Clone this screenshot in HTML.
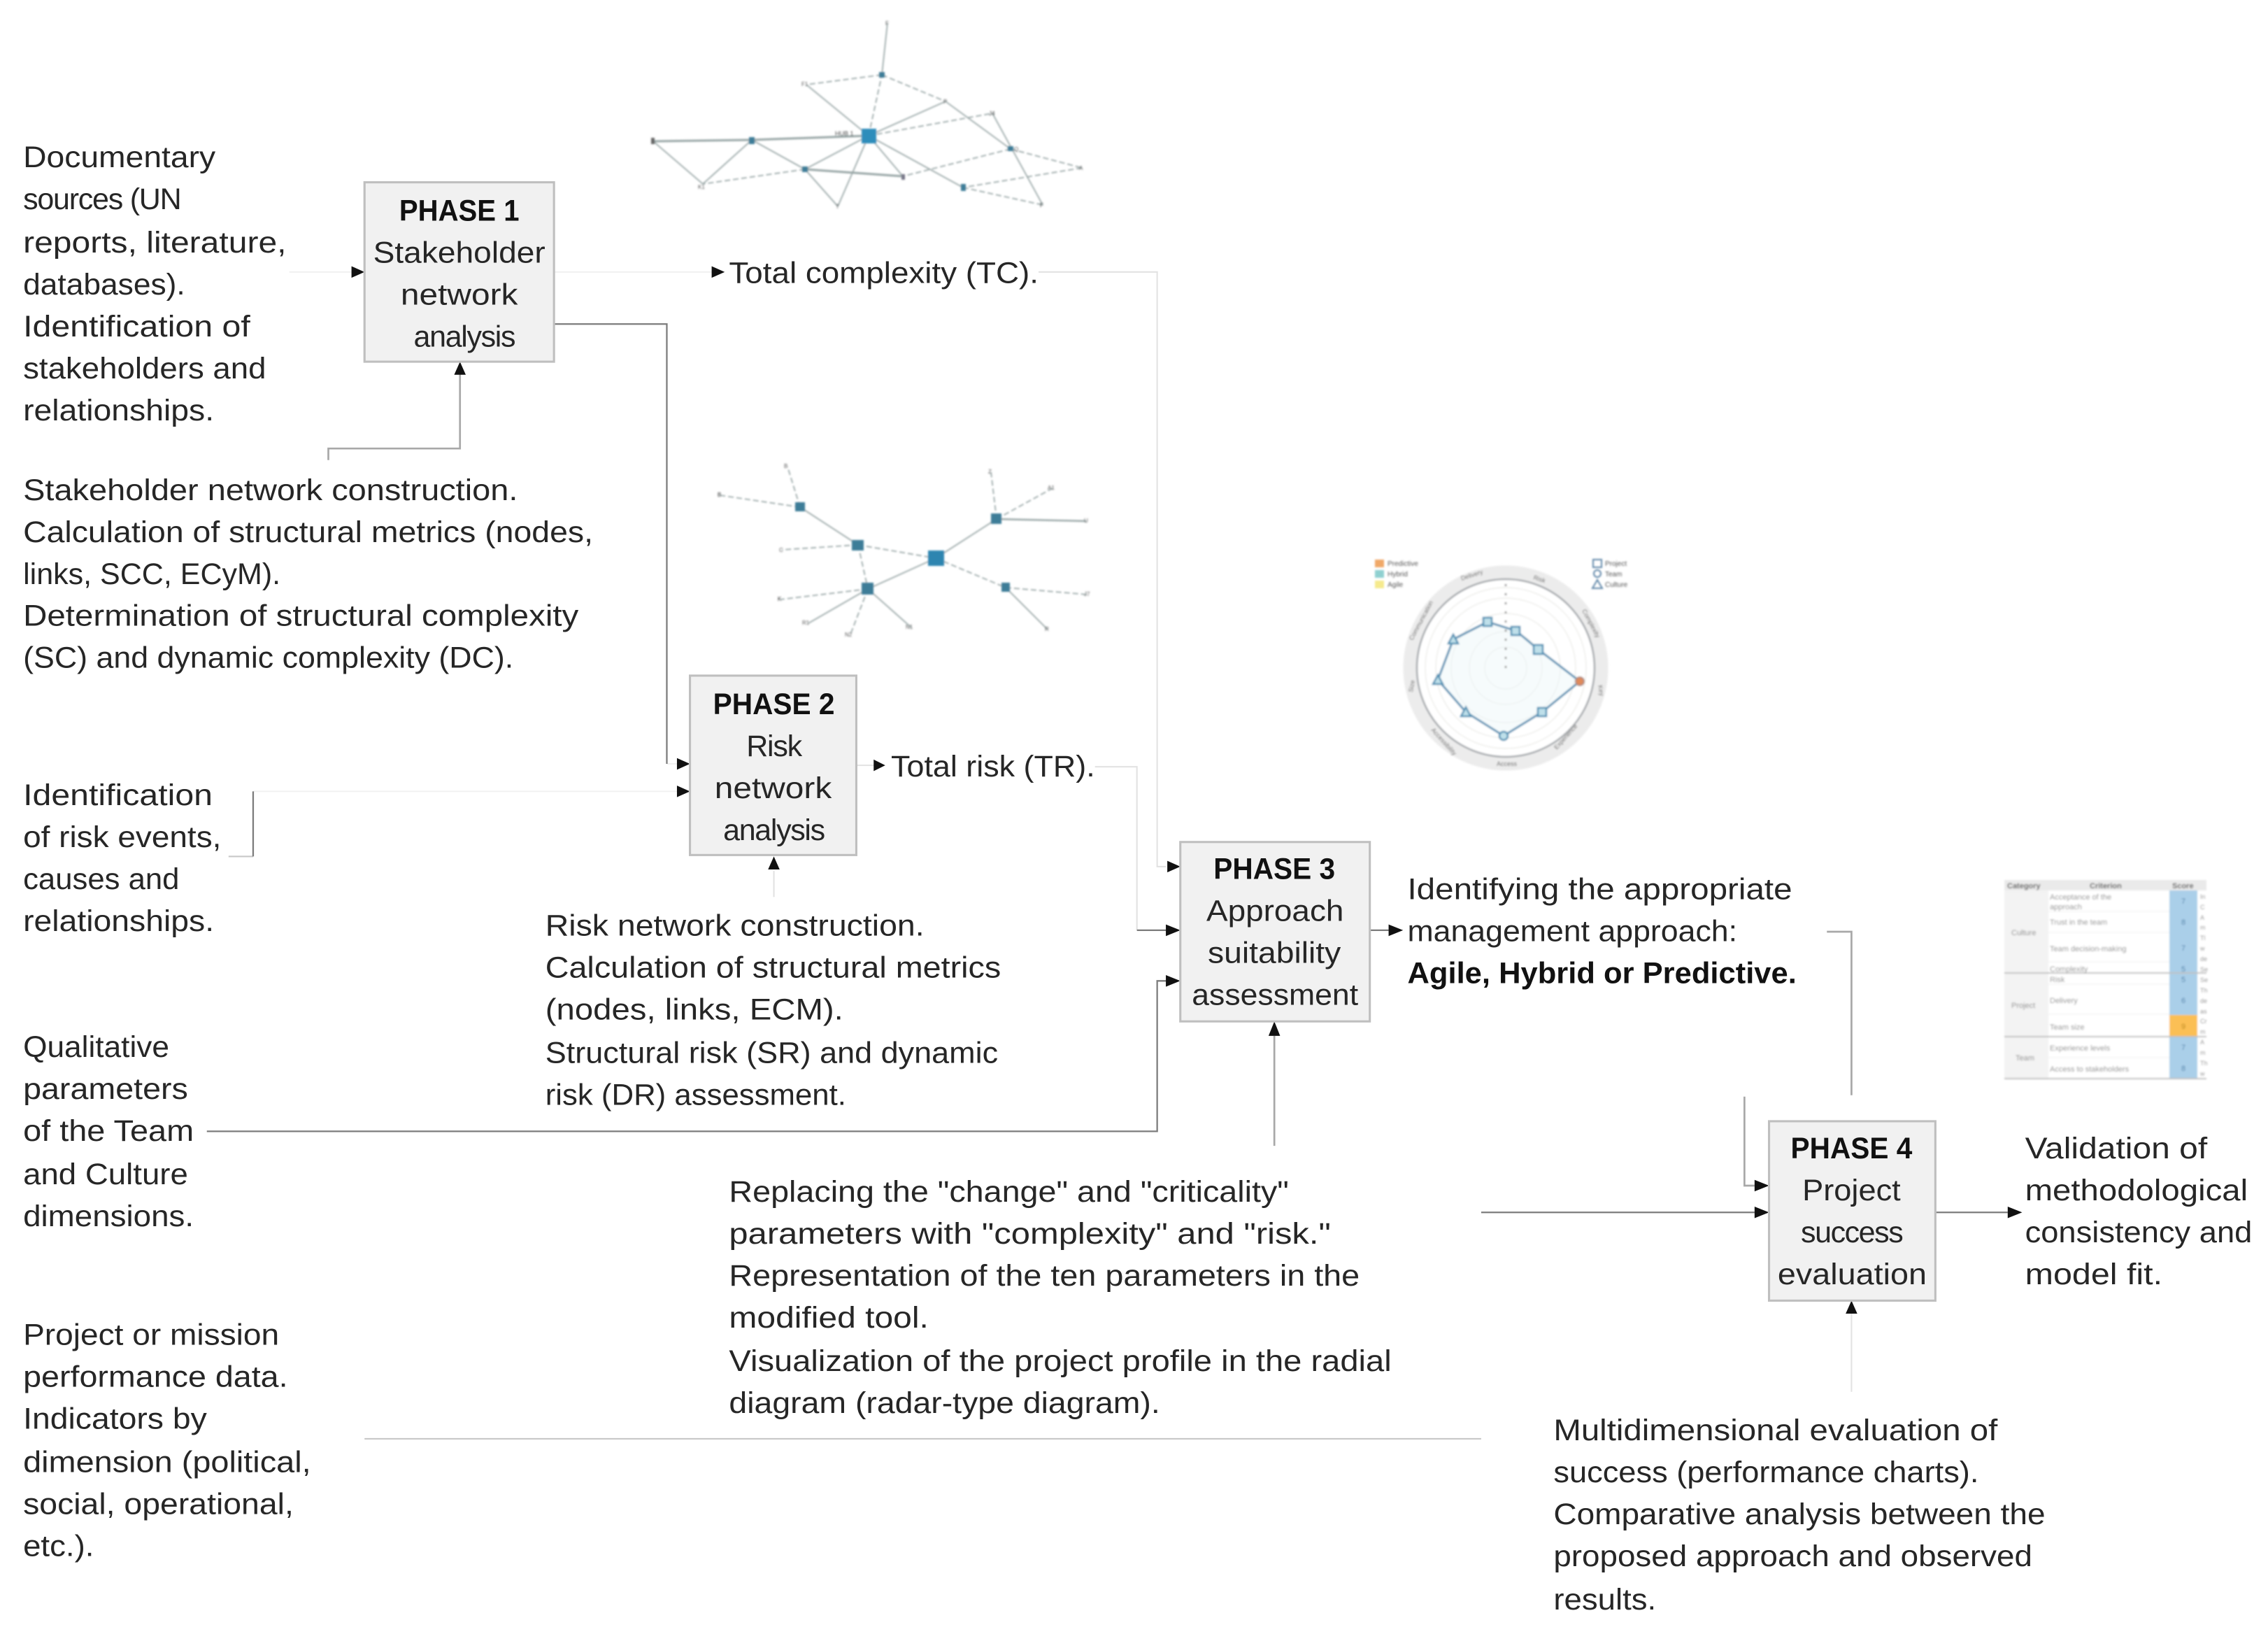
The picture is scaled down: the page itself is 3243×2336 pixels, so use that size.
<!DOCTYPE html>
<html><head><meta charset="utf-8"><style>
html,body{margin:0;padding:0;background:#fff}
svg{display:block}
.t text{font-family:"Liberation Sans",sans-serif;font-size:20.8px;fill:#262626}
.t text.b{font-weight:bold;fill:#111}
.l{fill:none;stroke:#7c7c7c;stroke-width:1.1}
.v{fill:none;stroke:#f1f1f1;stroke-width:1}
.f{fill:none;stroke:#e2e2e2;stroke-width:1}
.m{fill:none;stroke:#c8c8c8;stroke-width:1}
.h{fill:none;stroke:#a8a8a8;stroke-width:1.3}
.n line{stroke:#97a5a5;stroke-width:1.7}
.n .d{stroke-dasharray:8 4}
.n rect{fill:#3d7d98}
.r text{font-family:"Liberation Sans",sans-serif;font-size:8px;fill:#555}
.k text{font-family:"Liberation Sans",sans-serif;font-size:9px;fill:#888}
</style></head><body>
<svg xmlns="http://www.w3.org/2000/svg" width="3243" height="2336" viewBox="0 0 3243 2336">
<defs><filter id="bl" x="-5%" y="-5%" width="110%" height="110%"><feGaussianBlur stdDeviation="1.3"/></filter></defs>
<rect width="3243" height="2336" fill="#fff"/>

<g class="n" filter="url(#bl)">
<line x1="934" y1="202" x2="1075" y2="200" style="stroke-width:3"/><line x1="1075" y1="200" x2="1242" y2="194" style="stroke-width:3"/><line x1="934" y1="202" x2="1005" y2="263"/><line x1="1075" y1="200" x2="1005" y2="263"/><line x1="1075" y1="200" x2="1151" y2="242"/><line x1="1151" y1="242" x2="1242" y2="194"/><line class="d" x1="1151" y1="242" x2="1005" y2="263"/><line x1="1151" y1="242" x2="1291" y2="252" style="stroke-width:3"/><line x1="1242" y1="194" x2="1291" y2="252"/><line x1="1242" y1="194" x2="1198" y2="295"/><line x1="1151" y1="242" x2="1198" y2="295"/><line class="d" x1="1242" y1="194" x2="1261" y2="107"/><line x1="1261" y1="107" x2="1269" y2="33"/><line class="d" x1="1261" y1="107" x2="1153" y2="121"/><line x1="1153" y1="121" x2="1242" y2="194"/><line class="d" x1="1261" y1="107" x2="1352" y2="145"/><line x1="1352" y1="145" x2="1242" y2="194"/><line class="d" x1="1242" y1="194" x2="1419" y2="162"/><line x1="1419" y1="162" x2="1491" y2="293"/><line x1="1352" y1="145" x2="1445" y2="213"/><line class="d" x1="1445" y1="213" x2="1547" y2="240"/><line class="d" x1="1445" y1="213" x2="1291" y2="252"/><line class="d" x1="1547" y1="240" x2="1377" y2="268"/><line class="d" x1="1377" y1="268" x2="1491" y2="293"/><line x1="1242" y1="194" x2="1377" y2="268"/>
<rect x="1232" y="184" width="21" height="21" style="fill:#2f8dbb"/>
<rect x="1257" y="103" width="8" height="8"/><rect x="1071" y="196" width="8" height="10"/><rect x="1147" y="238" width="8" height="8"/><rect x="1374" y="263" width="7" height="10"/><rect x="1441" y="209" width="8" height="7"/>
<rect x="931" y="197" width="5" height="9" style="fill:#666"/><rect x="1289" y="249" width="5" height="8" style="fill:#778"/>
<g class="r"><text x="1194" y="194" style="font-size:9px;fill:#444">HUB 1</text><text x="1266" y="36">F</text><text x="1146" y="123">F1</text><text x="1349" y="148">P</text><text x="1414" y="165" style="fill:#222">J4</text><text x="1450" y="216">Q</text><text x="1543" y="243">A</text><text x="1487" y="296" style="fill:#222">F</text><text x="1195" y="298">T</text><text x="998" y="270">K1</text></g>

<line class="d" x1="1144" y1="725" x2="1126" y2="667"/><line class="d" x1="1144" y1="725" x2="1029" y2="708"/><line x1="1144" y1="725" x2="1227" y2="779"/><line class="d" x1="1227" y1="779" x2="1118" y2="786"/><line class="d" x1="1227" y1="779" x2="1338" y2="798"/><line class="d" x1="1227" y1="779" x2="1241" y2="842"/><line x1="1241" y1="842" x2="1338" y2="798"/><line class="d" x1="1241" y1="842" x2="1116" y2="857"/><line x1="1241" y1="842" x2="1156" y2="891"/><line class="d" x1="1241" y1="842" x2="1216" y2="907"/><line x1="1241" y1="842" x2="1303" y2="897"/><line x1="1338" y1="798" x2="1425" y2="742"/><line class="d" x1="1425" y1="742" x2="1417" y2="675"/><line class="d" x1="1425" y1="742" x2="1505" y2="698"/><line x1="1425" y1="742" x2="1553" y2="745" style="stroke-width:2.4"/><line class="d" x1="1338" y1="798" x2="1438" y2="840"/><line class="d" x1="1438" y1="840" x2="1555" y2="850"/><line x1="1438" y1="840" x2="1498" y2="900"/>
<rect x="1327" y="787" width="23" height="22" style="fill:#2f85b0"/><rect x="1137" y="718" width="14" height="13"/><rect x="1218" y="772" width="17" height="15"/><rect x="1232" y="833" width="17" height="17"/><rect x="1417" y="734" width="15" height="15"/><rect x="1432" y="833" width="12" height="13"/>
<g class="r"><text x="1121" y="669">B</text><text x="1026" y="710" style="fill:#222">B</text><text x="1114" y="789">C</text><text x="1112" y="859" style="fill:#222">K</text><text x="1147" y="893">R1</text><text x="1208" y="910">N2</text><text x="1295" y="899">N1</text><text x="1413" y="677">Z</text><text x="1498" y="700">A1</text><text x="1550" y="747">U</text><text x="1550" y="852">J7</text><text x="1494" y="902">R</text></g>
</g>

<g class="k" filter="url(#bl)">
<circle cx="2153" cy="955" r="137" fill="none" stroke="#ececec" stroke-width="19"/>
<circle cx="2153" cy="955" r="127" fill="#fff" stroke="#a4a8ac" stroke-width="2.5"/>
<g fill="none" stroke="#ededea" stroke-width="1.4"><circle cx="2153" cy="955" r="30"/><circle cx="2153" cy="955" r="52"/><circle cx="2153" cy="955" r="78"/><circle cx="2153" cy="955" r="100"/><circle cx="2153" cy="955" r="115"/></g>
<polygon points="2168,902 2199,928 2259,974 2205,1018 2150,1052 2096,1018 2056,972 2078,914 2127,889" fill="#eef7fa" fill-opacity=".5" stroke="#5b93b5" stroke-width="3"/>
<line x1="2153" y1="955" x2="2153" y2="832" stroke="#888" stroke-width="2.5" stroke-dasharray="3 10"/>
<g fill="#bfe0ea" stroke="#4d90b4" stroke-width="2.5"><rect x="2161" y="896" width="12" height="12"/><rect x="2193" y="922" width="13" height="13"/><rect x="2199" y="1012" width="12" height="12"/><circle cx="2150" cy="1052" r="6"/><polygon points="2096,1011 2103,1024 2089,1024"/><polygon points="2056,965 2063,978 2049,978"/><polygon points="2078,907 2085,920 2071,920"/><rect x="2121" y="883" width="12" height="12"/></g>
<circle cx="2259" cy="974" r="6" fill="#e08a5a" stroke="#b08a80" stroke-width="2"/>
<rect x="1966" y="800" width="13" height="11" fill="#f0a868"/><rect x="1966" y="815" width="13" height="11" fill="#8fd0d0"/><rect x="1966" y="830" width="13" height="11" fill="#f6ea8c"/>
<text x="1984" y="809" style="font-size:10px;fill:#555">Predictive</text><text x="1984" y="824" style="font-size:10px;fill:#555">Hybrid</text><text x="1984" y="839" style="font-size:10px;fill:#555">Agile</text>
<g fill="none" stroke="#5f86a8" stroke-width="2"><rect x="2278" y="800" width="12" height="11"/><circle cx="2284" cy="820" r="5"/><polygon points="2284,829 2291,841 2277,841"/></g>
<text x="2295" y="809" style="font-size:10px;fill:#555">Project</text><text x="2295" y="824" style="font-size:10px;fill:#555">Team</text><text x="2295" y="839" style="font-size:10px;fill:#555">Culture</text>
<g style="fill:#555"><text x="2090" y="830" transform="rotate(-18 2090 830)" style="fill:#555">Delivery</text><text x="2192" y="828" transform="rotate(18 2192 828)" style="fill:#555">Risk</text><text x="2262" y="873" transform="rotate(62 2262 873)" style="fill:#555">Complexity</text><text x="2285" y="980" transform="rotate(80 2285 980)" style="fill:#555">Key</text><text x="2226" y="1072" transform="rotate(-48 2226 1072)" style="fill:#555">Experience</text><text x="2140" y="1095" style="fill:#555">Access</text><text x="2046" y="1044" transform="rotate(48 2046 1044)" style="fill:#555">Accessibility</text><text x="2020" y="990" transform="rotate(-80 2020 990)" style="fill:#555">Size</text><text x="2020" y="916" transform="rotate(-62 2020 916)" style="fill:#555">Communication</text></g>
</g>

<g class="k" filter="url(#bl)">
<rect x="2866" y="1258" width="289" height="284" fill="#fff"/>
<rect x="2866" y="1258" width="289" height="15" fill="#eaeaea"/>
<rect x="2866" y="1273" width="63" height="269" fill="#f3f3f3"/>
<rect x="3102" y="1273" width="40" height="269" fill="#aacfe9"/>
<rect x="3102" y="1451" width="40" height="31" fill="#fbbf55"/>
<g stroke="#f0f0f0" stroke-width="1"><line x1="2929" y1="1303" x2="3102" y2="1303"/><line x1="2929" y1="1333" x2="3102" y2="1333"/><line x1="2929" y1="1375" x2="3102" y2="1375"/><line x1="2929" y1="1407" x2="3102" y2="1407"/><line x1="2929" y1="1450" x2="3102" y2="1450"/><line x1="2929" y1="1512" x2="3102" y2="1512"/></g>
<g stroke="#c0c0c0" stroke-width="2"><line x1="2866" y1="1391" x2="3155" y2="1391"/><line x1="2866" y1="1482" x2="3155" y2="1482"/><line x1="2866" y1="1542" x2="3155" y2="1542"/></g>
<text x="2870" y="1270" style="font-size:11px;font-weight:bold;fill:#555">Category</text><text x="2988" y="1270" style="font-size:11px;font-weight:bold;fill:#555">Criterion</text><text x="3106" y="1270" style="font-size:11px;font-weight:bold;fill:#555">Score</text>
<text x="2876" y="1337" style="font-size:11px">Culture</text><text x="2876" y="1441" style="font-size:11px">Project</text><text x="2882" y="1516" style="font-size:11px">Team</text>
<text x="2931" y="1286" style="font-size:11px">Acceptance of the</text><text x="2931" y="1300" style="font-size:11px">approach</text><text x="2931" y="1322" style="font-size:11px">Trust in the team</text><text x="2931" y="1360" style="font-size:11px">Team decision-making</text><text x="2931" y="1389" style="font-size:11px">Complexity</text><text x="2931" y="1404" style="font-size:11px">Risk</text><text x="2931" y="1434" style="font-size:11px">Delivery</text><text x="2931" y="1472" style="font-size:11px">Team size</text><text x="2931" y="1502" style="font-size:11px">Experience levels</text><text x="2931" y="1532" style="font-size:11px">Access to stakeholders</text>
<text x="3119" y="1292" style="font-size:11px;fill:#4a7fa8">7</text><text x="3119" y="1322" style="font-size:11px;fill:#4a7fa8">8</text><text x="3119" y="1359" style="font-size:11px;fill:#4a7fa8">7</text><text x="3119" y="1389" style="font-size:11px;fill:#4a7fa8">5</text><text x="3119" y="1404" style="font-size:11px;fill:#4a7fa8">5</text><text x="3119" y="1434" style="font-size:11px;fill:#4a7fa8">6</text><text x="3119" y="1471" style="font-size:11px;fill:#b8860b">9</text><text x="3119" y="1501" style="font-size:11px;fill:#4a7fa8">7</text><text x="3119" y="1531" style="font-size:11px;fill:#4a7fa8">8</text>
<g><text x="3146" y="1285">In</text><text x="3146" y="1300">C</text><text x="3146" y="1315">A</text><text x="3146" y="1329">m</text><text x="3146" y="1344">Tl</text><text x="3146" y="1359">w</text><text x="3146" y="1374">de</text><text x="3146" y="1389">Se</text><text x="3146" y="1404">Se</text><text x="3146" y="1419">Th</text><text x="3146" y="1434">de</text><text x="3146" y="1449">as</text><text x="3146" y="1463">Cr</text><text x="3146" y="1478">m</text><text x="3146" y="1493">A</text><text x="3146" y="1508">m</text><text x="3146" y="1523">Th</text><text x="3146" y="1538">w</text></g>
</g>

<g transform="scale(2.0683)">
<!-- connectors -->
<g>
<path class="v" d="M200 188H243M383 188H492M175 547H468M461 528H468"/>
<path class="f" d="M718 188H800V599H806M757 530H786V643M592 529H604M535 602V620M1280 908V962"/>
<path class="m" d="M252 994.5H1024M158 592H175"/>
<path class="h" d="M227 318V310H318V258M881 792V716M1263 644H1280V757M1206 758V819.5H1213"/>
<path class="l" d="M175 547V592M383 224H461V528M143 782H800V678H806M786 643H806M947 643H960M1024 838H1213M1338 838H1388"/>
<g fill="#111">
<polygon points="252,188 243,184 243,192"/><polygon points="501,188 492,184 492,192"/><polygon points="816,599 807,595 807,603"/><polygon points="477,528 468,524 468,532"/><polygon points="477,547 468,543 468,551"/><polygon points="612,529 604,525 604,533"/><polygon points="816,643 806,639 806,647"/><polygon points="816,678 806,674 806,682"/><polygon points="970,643 960,639 960,647"/><polygon points="1223,819.5 1213,815.5 1213,823.5"/><polygon points="1223,838 1213,834 1213,842"/><polygon points="1398,838 1388,834 1388,842"/>
<polygon points="318,250 314,259 322,259"/><polygon points="535,592 531,601 539,601"/><polygon points="881,706 877,716 885,716"/><polygon points="1280,899 1276,908 1284,908"/>
</g>
</g>
<!-- boxes -->
<g fill="#f1f1f1" stroke="#bfbfbf" stroke-width="1.5">
<rect x="252" y="126" width="131" height="124"/>
<rect x="477" y="467" width="115" height="124"/>
<rect x="816" y="582" width="131" height="124"/>
<rect x="1223" y="775" width="115" height="124"/>
</g>
<g class="t" transform="translate(0 .6)">
<text class="b" x="276" y="152" textLength="83" lengthAdjust="spacingAndGlyphs">PHASE 1</text>
<text x="258" y="181" textLength="119" lengthAdjust="spacingAndGlyphs">Stakeholder</text>
<text x="277" y="210" textLength="81" lengthAdjust="spacingAndGlyphs">network</text>
<text x="286" y="239" style="letter-spacing:-.65px">analysis</text>
<text class="b" x="493" y="493" textLength="84" lengthAdjust="spacingAndGlyphs">PHASE 2</text>
<text x="516" y="522" style="letter-spacing:-.6px">Risk</text>
<text x="494" y="551" textLength="81" lengthAdjust="spacingAndGlyphs">network</text>
<text x="500" y="580" style="letter-spacing:-.65px">analysis</text>
<text class="b" x="839" y="607" textLength="84" lengthAdjust="spacingAndGlyphs">PHASE 3</text>
<text x="834" y="636" textLength="95" lengthAdjust="spacingAndGlyphs">Approach</text>
<text x="835" y="665" textLength="92" lengthAdjust="spacingAndGlyphs">suitability</text>
<text x="824" y="694" textLength="115" lengthAdjust="spacingAndGlyphs">assessment</text>
<text class="b" x="1238" y="800" textLength="84" lengthAdjust="spacingAndGlyphs">PHASE 4</text>
<text x="1246" y="829" textLength="68" lengthAdjust="spacingAndGlyphs">Project</text>
<text x="1245" y="858" style="letter-spacing:-.7px">success</text>
<text x="1229" y="887" textLength="103" lengthAdjust="spacingAndGlyphs">evaluation</text>

<text x="16" y="115" textLength="133" lengthAdjust="spacingAndGlyphs">Documentary</text>
<text x="16" y="144" style="letter-spacing:-.6px">sources (UN</text>
<text x="16" y="174" textLength="182" lengthAdjust="spacingAndGlyphs">reports, literature,</text>
<text x="16" y="203" textLength="112" lengthAdjust="spacingAndGlyphs">databases).</text>
<text x="16" y="232" textLength="157" lengthAdjust="spacingAndGlyphs">Identification of</text>
<text x="16" y="261" textLength="168" lengthAdjust="spacingAndGlyphs">stakeholders and</text>
<text x="16" y="290" textLength="132" lengthAdjust="spacingAndGlyphs">relationships.</text>

<text x="16" y="345" textLength="342" lengthAdjust="spacingAndGlyphs">Stakeholder network construction.</text>
<text x="16" y="374" textLength="394" lengthAdjust="spacingAndGlyphs">Calculation of structural metrics (nodes,</text>
<text x="16" y="403">links, SCC, ECyM).</text>
<text x="16" y="432" textLength="384" lengthAdjust="spacingAndGlyphs">Determination of structural complexity</text>
<text x="16" y="461" textLength="339" lengthAdjust="spacingAndGlyphs">(SC) and dynamic complexity (DC).</text>

<text x="16" y="556" textLength="131" lengthAdjust="spacingAndGlyphs">Identification</text>
<text x="16" y="585" textLength="137" lengthAdjust="spacingAndGlyphs">of risk events,</text>
<text x="16" y="614" textLength="108" lengthAdjust="spacingAndGlyphs">causes and</text>
<text x="16" y="643" textLength="132" lengthAdjust="spacingAndGlyphs">relationships.</text>

<text x="16" y="730" textLength="101" lengthAdjust="spacingAndGlyphs">Qualitative</text>
<text x="16" y="759" textLength="114" lengthAdjust="spacingAndGlyphs">parameters</text>
<text x="16" y="788" textLength="118" lengthAdjust="spacingAndGlyphs">of the Team</text>
<text x="16" y="818" textLength="114" lengthAdjust="spacingAndGlyphs">and Culture</text>
<text x="16" y="847" textLength="118" lengthAdjust="spacingAndGlyphs">dimensions.</text>

<text x="16" y="929" textLength="177" lengthAdjust="spacingAndGlyphs">Project or mission</text>
<text x="16" y="958" textLength="183" lengthAdjust="spacingAndGlyphs">performance data.</text>
<text x="16" y="987" textLength="127" lengthAdjust="spacingAndGlyphs">Indicators by</text>
<text x="16" y="1017" textLength="199" lengthAdjust="spacingAndGlyphs">dimension (political,</text>
<text x="16" y="1046" textLength="187" lengthAdjust="spacingAndGlyphs">social, operational,</text>
<text x="16" y="1075" textLength="49" lengthAdjust="spacingAndGlyphs">etc.).</text>

<text x="504" y="195" textLength="214" lengthAdjust="spacingAndGlyphs">Total complexity (TC).</text>
<text x="616" y="536" textLength="141" lengthAdjust="spacingAndGlyphs">Total risk (TR).</text>

<text x="377" y="646" textLength="262" lengthAdjust="spacingAndGlyphs">Risk network construction.</text>
<text x="377" y="675" textLength="315" lengthAdjust="spacingAndGlyphs">Calculation of structural metrics</text>
<text x="377" y="704" textLength="206" lengthAdjust="spacingAndGlyphs">(nodes, links, ECM).</text>
<text x="377" y="734" textLength="313" lengthAdjust="spacingAndGlyphs">Structural risk (SR) and dynamic</text>
<text x="377" y="763" textLength="208" lengthAdjust="spacingAndGlyphs">risk (DR) assessment.</text>

<text x="973" y="621" textLength="266" lengthAdjust="spacingAndGlyphs">Identifying the appropriate</text>
<text x="973" y="650" textLength="228" lengthAdjust="spacingAndGlyphs">management approach:</text>
<text class="b" x="973" y="679" textLength="269" lengthAdjust="spacingAndGlyphs">Agile, Hybrid or Predictive.</text>

<text x="504" y="830" textLength="387" lengthAdjust="spacingAndGlyphs">Replacing the "change" and "criticality"</text>
<text x="504" y="859" textLength="416" lengthAdjust="spacingAndGlyphs">parameters with "complexity" and "risk."</text>
<text x="504" y="888" textLength="436" lengthAdjust="spacingAndGlyphs">Representation of the ten parameters in the</text>
<text x="504" y="917" textLength="138" lengthAdjust="spacingAndGlyphs">modified tool.</text>
<text x="504" y="947" textLength="458" lengthAdjust="spacingAndGlyphs">Visualization of the project profile in the radial</text>
<text x="504" y="976" textLength="298" lengthAdjust="spacingAndGlyphs">diagram (radar-type diagram).</text>

<text x="1400" y="800" textLength="126" lengthAdjust="spacingAndGlyphs">Validation of</text>
<text x="1400" y="829" textLength="154" lengthAdjust="spacingAndGlyphs">methodological</text>
<text x="1400" y="858" textLength="157" lengthAdjust="spacingAndGlyphs">consistency and</text>
<text x="1400" y="887" textLength="95" lengthAdjust="spacingAndGlyphs">model fit.</text>

<text x="1074" y="995" textLength="307" lengthAdjust="spacingAndGlyphs">Multidimensional evaluation of</text>
<text x="1074" y="1024" textLength="294" lengthAdjust="spacingAndGlyphs">success (performance charts).</text>
<text x="1074" y="1053" textLength="340" lengthAdjust="spacingAndGlyphs">Comparative analysis between the</text>
<text x="1074" y="1082" textLength="331" lengthAdjust="spacingAndGlyphs">proposed approach and observed</text>
<text x="1074" y="1112" textLength="71" lengthAdjust="spacingAndGlyphs">results.</text>
</g>
</g>
</svg>
</body></html>
